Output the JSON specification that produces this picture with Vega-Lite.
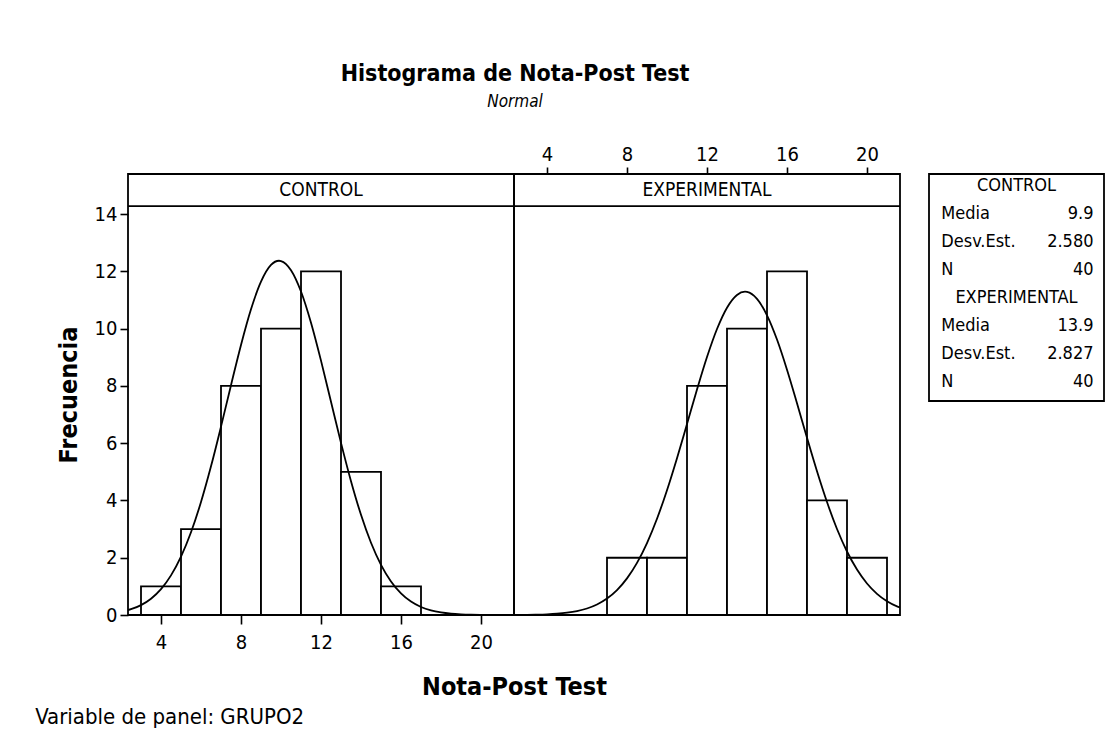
{
  "$schema": "https://vega.github.io/schema/vega-lite/v6.json",
  "background": "white",
  "padding": {"left": 35, "top": 63, "right": 5, "bottom": 5},
  "config": {
    "font": "DejaVu Sans Condensed, DejaVu Sans",
    "view": {"stroke": "black", "strokeWidth": 1.8},
    "axis": {"domain": false, "grid": false, "tickColor": "black", "tickWidth": 1.6, "tickSize": 8, "labelColor": "black", "titleColor": "black", "labelFontSize": 20, "titleFontSize": 25, "titleFontWeight": "bold"},
    "text": {"color": "black"}
  },
  "datasets": {
    "bars": [
      {"g": "CONTROL", "lo": 3, "hi": 5, "n": 1},
      {"g": "CONTROL", "lo": 5, "hi": 7, "n": 3},
      {"g": "CONTROL", "lo": 7, "hi": 9, "n": 8},
      {"g": "CONTROL", "lo": 9, "hi": 11, "n": 10},
      {"g": "CONTROL", "lo": 11, "hi": 13, "n": 12},
      {"g": "CONTROL", "lo": 13, "hi": 15, "n": 5},
      {"g": "CONTROL", "lo": 15, "hi": 17, "n": 1},
      {"g": "EXPERIMENTAL", "lo": 7, "hi": 9, "n": 2},
      {"g": "EXPERIMENTAL", "lo": 9, "hi": 11, "n": 2},
      {"g": "EXPERIMENTAL", "lo": 11, "hi": 13, "n": 8},
      {"g": "EXPERIMENTAL", "lo": 13, "hi": 15, "n": 10},
      {"g": "EXPERIMENTAL", "lo": 15, "hi": 17, "n": 12},
      {"g": "EXPERIMENTAL", "lo": 17, "hi": 19, "n": 4},
      {"g": "EXPERIMENTAL", "lo": 19, "hi": 21, "n": 2}
    ],
    "curve": [
      {"g": "CONTROL", "x": 2.35, "y": 0.171},
      {"g": "CONTROL", "x": 2.5, "y": 0.202},
      {"g": "CONTROL", "x": 3, "y": 0.346},
      {"g": "CONTROL", "x": 3.5, "y": 0.570},
      {"g": "CONTROL", "x": 4, "y": 0.905},
      {"g": "CONTROL", "x": 4.5, "y": 1.384},
      {"g": "CONTROL", "x": 5, "y": 2.038},
      {"g": "CONTROL", "x": 5.5, "y": 2.889},
      {"g": "CONTROL", "x": 6, "y": 3.946},
      {"g": "CONTROL", "x": 6.5, "y": 5.191},
      {"g": "CONTROL", "x": 7, "y": 6.577},
      {"g": "CONTROL", "x": 7.5, "y": 8.026},
      {"g": "CONTROL", "x": 8, "y": 9.432},
      {"g": "CONTROL", "x": 8.5, "y": 10.677},
      {"g": "CONTROL", "x": 9, "y": 11.640},
      {"g": "CONTROL", "x": 9.5, "y": 12.223},
      {"g": "CONTROL", "x": 9.9, "y": 12.370},
      {"g": "CONTROL", "x": 10, "y": 12.361},
      {"g": "CONTROL", "x": 10.5, "y": 12.040},
      {"g": "CONTROL", "x": 11, "y": 11.296},
      {"g": "CONTROL", "x": 11.5, "y": 10.206},
      {"g": "CONTROL", "x": 12, "y": 8.882},
      {"g": "CONTROL", "x": 12.5, "y": 7.445},
      {"g": "CONTROL", "x": 13, "y": 6.010},
      {"g": "CONTROL", "x": 13.5, "y": 4.673},
      {"g": "CONTROL", "x": 14, "y": 3.500},
      {"g": "CONTROL", "x": 14.5, "y": 2.524},
      {"g": "CONTROL", "x": 15, "y": 1.753},
      {"g": "CONTROL", "x": 15.5, "y": 1.173},
      {"g": "CONTROL", "x": 16, "y": 0.756},
      {"g": "CONTROL", "x": 16.5, "y": 0.469},
      {"g": "CONTROL", "x": 17, "y": 0.280},
      {"g": "CONTROL", "x": 17.5, "y": 0.161},
      {"g": "CONTROL", "x": 18, "y": 0.090},
      {"g": "CONTROL", "x": 18.5, "y": 0.048},
      {"g": "CONTROL", "x": 19, "y": 0.025},
      {"g": "CONTROL", "x": 19.5, "y": 0.012},
      {"g": "CONTROL", "x": 20, "y": 0.006},
      {"g": "CONTROL", "x": 20.5, "y": 0.003},
      {"g": "CONTROL", "x": 21, "y": 0.001},
      {"g": "CONTROL", "x": 21.65, "y": 0.0004},
      {"g": "EXPERIMENTAL", "x": 2.35, "y": 0.0027},
      {"g": "EXPERIMENTAL", "x": 2.5, "y": 0.0033},
      {"g": "EXPERIMENTAL", "x": 3, "y": 0.0067},
      {"g": "EXPERIMENTAL", "x": 3.5, "y": 0.0130},
      {"g": "EXPERIMENTAL", "x": 4, "y": 0.0245},
      {"g": "EXPERIMENTAL", "x": 4.5, "y": 0.0449},
      {"g": "EXPERIMENTAL", "x": 5, "y": 0.0795},
      {"g": "EXPERIMENTAL", "x": 5.5, "y": 0.1366},
      {"g": "EXPERIMENTAL", "x": 6, "y": 0.2275},
      {"g": "EXPERIMENTAL", "x": 6.5, "y": 0.3671},
      {"g": "EXPERIMENTAL", "x": 7, "y": 0.5742},
      {"g": "EXPERIMENTAL", "x": 7.5, "y": 0.8705},
      {"g": "EXPERIMENTAL", "x": 8, "y": 1.279},
      {"g": "EXPERIMENTAL", "x": 8.5, "y": 1.821},
      {"g": "EXPERIMENTAL", "x": 9, "y": 2.514},
      {"g": "EXPERIMENTAL", "x": 9.5, "y": 3.362},
      {"g": "EXPERIMENTAL", "x": 10, "y": 4.359},
      {"g": "EXPERIMENTAL", "x": 10.5, "y": 5.477},
      {"g": "EXPERIMENTAL", "x": 11, "y": 6.671},
      {"g": "EXPERIMENTAL", "x": 11.5, "y": 7.873},
      {"g": "EXPERIMENTAL", "x": 12, "y": 9.007},
      {"g": "EXPERIMENTAL", "x": 12.5, "y": 9.987},
      {"g": "EXPERIMENTAL", "x": 13, "y": 10.732},
      {"g": "EXPERIMENTAL", "x": 13.5, "y": 11.177},
      {"g": "EXPERIMENTAL", "x": 13.9, "y": 11.289},
      {"g": "EXPERIMENTAL", "x": 14, "y": 11.282},
      {"g": "EXPERIMENTAL", "x": 14.5, "y": 11.038},
      {"g": "EXPERIMENTAL", "x": 15, "y": 10.466},
      {"g": "EXPERIMENTAL", "x": 15.5, "y": 9.619},
      {"g": "EXPERIMENTAL", "x": 16, "y": 8.567},
      {"g": "EXPERIMENTAL", "x": 16.5, "y": 7.396},
      {"g": "EXPERIMENTAL", "x": 17, "y": 6.188},
      {"g": "EXPERIMENTAL", "x": 17.5, "y": 5.018},
      {"g": "EXPERIMENTAL", "x": 18, "y": 3.944},
      {"g": "EXPERIMENTAL", "x": 18.5, "y": 3.004},
      {"g": "EXPERIMENTAL", "x": 19, "y": 2.218},
      {"g": "EXPERIMENTAL", "x": 19.5, "y": 1.587},
      {"g": "EXPERIMENTAL", "x": 20, "y": 1.101},
      {"g": "EXPERIMENTAL", "x": 20.5, "y": 0.740},
      {"g": "EXPERIMENTAL", "x": 21, "y": 0.482},
      {"g": "EXPERIMENTAL", "x": 21.5, "y": 0.304},
      {"g": "EXPERIMENTAL", "x": 21.65, "y": 0.264}
    ],
    "panels": [
      {"g": "CONTROL", "stripBottom": 14.28, "stripMid": 14.84},
      {"g": "EXPERIMENTAL", "stripBottom": 14.28, "stripMid": 14.84}
    ],
    "stats": [
      {"row": 0, "kind": "h", "label": "CONTROL", "value": ""},
      {"row": 1, "kind": "s", "label": "Media", "value": "9.9"},
      {"row": 2, "kind": "s", "label": "Desv.Est.", "value": "2.580"},
      {"row": 3, "kind": "s", "label": "N", "value": "40"},
      {"row": 4, "kind": "h", "label": "EXPERIMENTAL", "value": ""},
      {"row": 5, "kind": "s", "label": "Media", "value": "13.9"},
      {"row": 6, "kind": "s", "label": "Desv.Est.", "value": "2.827"},
      {"row": 7, "kind": "s", "label": "N", "value": "40"}
    ]
  },
  "title": {"text": "Histograma de Nota-Post Test", "subtitle": "Normal", "anchor": "middle", "dx": -55, "fontSize": 23, "fontWeight": "bold", "color": "black", "subtitleFontSize": 17, "subtitleFontStyle": "italic", "subtitleColor": "black", "subtitlePadding": 8, "offset": 33},
  "spacing": 26,
  "hconcat": [
    {
      "title": {"text": "Variable de panel: GRUPO2", "orient": "bottom", "anchor": "start", "fontSize": 22, "fontWeight": "normal", "color": "black", "offset": 7, "dx": -20},
      "spacing": 0,
      "bounds": "flush",
      "hconcat": [
        {
          "width": 386,
          "height": 441,
          "layer": [
            {
              "data": {"name": "bars"},
              "transform": [{"filter": "datum.g == 'CONTROL'"}],
              "mark": {"type": "rect", "fill": "white", "stroke": "black", "strokeWidth": 1.8},
              "encoding": {
                "x": {"field": "lo", "type": "quantitative", "scale": {"domain": [2.35, 21.65], "nice": false, "zero": false},
                      "axis": {"orient": "bottom", "values": [4, 8, 12, 16, 20], "title": "Nota-Post Test", "titleX": 386, "titleAlign": "center", "titlePadding": 22, "labelPadding": 8, "tickSize": 9}},
                "x2": {"field": "hi"},
                "y": {"field": "n", "type": "quantitative", "scale": {"domain": [0, 15.4], "nice": false},
                      "axis": {"values": [0, 2, 4, 6, 8, 10, 12, 14], "title": "Frecuencia", "titlePadding": 13, "labelPadding": 3}},
                "y2": {"datum": 0}
              }
            },
            {
              "data": {"name": "curve"},
              "transform": [{"filter": "datum.g == 'CONTROL'"}],
              "mark": {"type": "line", "color": "black", "strokeWidth": 1.8, "interpolate": "monotone", "clip": true},
              "encoding": {"x": {"field": "x", "type": "quantitative"}, "y": {"field": "y", "type": "quantitative"}}
            },
            {
              "data": {"name": "panels"},
              "transform": [{"filter": "datum.g == 'CONTROL'"}],
              "mark": {"type": "rule", "color": "black", "strokeWidth": 1.8},
              "encoding": {"y": {"field": "stripBottom", "type": "quantitative"}}
            },
            {
              "data": {"name": "panels"},
              "transform": [{"filter": "datum.g == 'CONTROL'"}],
              "mark": {"type": "text", "fontSize": 19, "baseline": "middle"},
              "encoding": {"x": {"datum": 12}, "y": {"field": "stripMid", "type": "quantitative"}, "text": {"field": "g"}}
            }
          ]
        },
        {
          "width": 386,
          "height": 441,
          "layer": [
            {
              "data": {"name": "bars"},
              "transform": [{"filter": "datum.g == 'EXPERIMENTAL'"}],
              "mark": {"type": "rect", "fill": "white", "stroke": "black", "strokeWidth": 1.8},
              "encoding": {
                "x": {"field": "lo", "type": "quantitative", "scale": {"domain": [2.35, 21.65], "nice": false, "zero": false},
                      "axis": {"orient": "top", "values": [4, 8, 12, 16, 20], "title": null, "labelPadding": 3, "tickSize": 7}},
                "x2": {"field": "hi"},
                "y": {"field": "n", "type": "quantitative", "scale": {"domain": [0, 15.4], "nice": false}, "axis": null},
                "y2": {"datum": 0}
              }
            },
            {
              "data": {"name": "curve"},
              "transform": [{"filter": "datum.g == 'EXPERIMENTAL'"}],
              "mark": {"type": "line", "color": "black", "strokeWidth": 1.8, "interpolate": "monotone", "clip": true},
              "encoding": {"x": {"field": "x", "type": "quantitative"}, "y": {"field": "y", "type": "quantitative"}}
            },
            {
              "data": {"name": "panels"},
              "transform": [{"filter": "datum.g == 'EXPERIMENTAL'"}],
              "mark": {"type": "rule", "color": "black", "strokeWidth": 1.8},
              "encoding": {"y": {"field": "stripBottom", "type": "quantitative"}}
            },
            {
              "data": {"name": "panels"},
              "transform": [{"filter": "datum.g == 'EXPERIMENTAL'"}],
              "mark": {"type": "text", "fontSize": 19, "baseline": "middle"},
              "encoding": {"x": {"datum": 12}, "y": {"field": "stripMid", "type": "quantitative"}, "text": {"field": "g"}}
            }
          ]
        }
      ]
    },
    {
      "width": 175,
      "height": 227,
      "data": {"name": "stats"},
      "encoding": {"y": {"field": "row", "type": "quantitative", "scale": {"domain": [-0.43, 7.68], "reverse": true}, "axis": null}},
      "layer": [
        {
          "transform": [{"filter": "datum.kind == 'h'"}],
          "mark": {"type": "text", "fontSize": 18, "align": "center", "baseline": "middle"},
          "encoding": {"x": {"datum": 0.5, "type": "quantitative", "scale": {"domain": [0, 1]}, "axis": null}, "text": {"field": "label"}}
        },
        {
          "transform": [{"filter": "datum.kind == 's'"}],
          "mark": {"type": "text", "fontSize": 18, "align": "left", "baseline": "middle"},
          "encoding": {"x": {"datum": 0.07, "type": "quantitative"}, "text": {"field": "label"}}
        },
        {
          "transform": [{"filter": "datum.kind == 's'"}],
          "mark": {"type": "text", "fontSize": 18, "align": "right", "baseline": "middle"},
          "encoding": {"x": {"datum": 0.94, "type": "quantitative"}, "text": {"field": "value"}}
        }
      ]
    }
  ]
}
